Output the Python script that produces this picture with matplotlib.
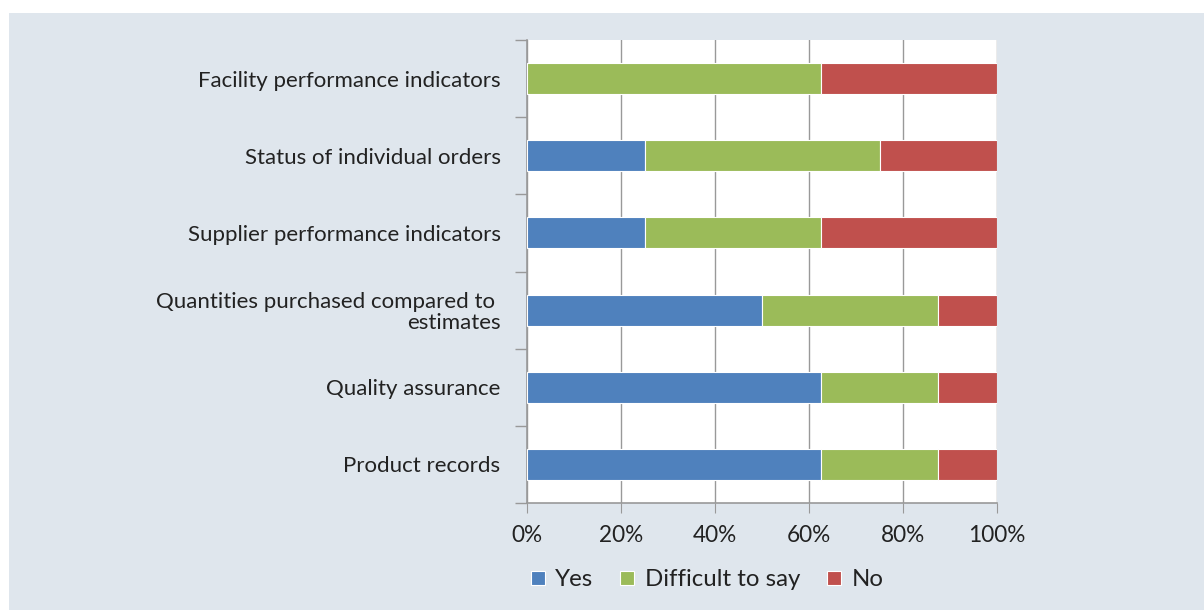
import matplotlib
matplotlib.use("Agg")
import matplotlib.pyplot as plt
from matplotlib.patches import Rectangle
import numpy as np

categories = ["Product records", "Quality assurance",
              "Quantities purchased compared to \nestimates",
              "Supplier performance indicators",
              "Status of individual orders",
              "Facility performance indicators"]
yes = [62.5, 62.5, 50.0, 25.0, 25.0, 0.0]
difficult = [25.0, 25.0, 37.5, 37.5, 50.0, 62.5]
no = [12.5, 12.5, 12.5, 37.5, 25.0, 37.5]
series_names = ["Yes", "Difficult to say", "No"]
colors = ["#4f81bd", "#9bbb59", "#c0504d"]
xticks = [0, 20, 40, 60, 80, 100]
xtick_labels = ["0%", "20%", "40%", "60%", "80%", "100%"]

plt.rcParams['font.family'] = ['Lato', 'DejaVu Sans']

W, H = 1204, 610
fig = plt.figure(figsize=(W/100, H/100), dpi=100)
fig.patch.set_facecolor("white")
bg = Rectangle((9/W, 0), 1 - 9/W, 1 - 13/H, transform=fig.transFigure,
               facecolor="#dfe6ed", edgecolor="none", zorder=-10)
fig.patches.append(bg)

ax = fig.add_axes([527/W, 1 - 503/H, (997-527)/W, (503-40)/H])
ax.set_facecolor("white")

y = np.arange(len(categories))
left = np.zeros(len(categories))
for vals, name, c in zip([yes, difficult, no], series_names, colors):
    ax.barh(y, vals, left=left, height=0.4, color=c, edgecolor="white",
            linewidth=0.8, label=name, zorder=3)
    left = left + np.array(vals)

ax.set_xlim(0, 100)
ax.set_ylim(-0.5, len(categories) - 0.5)
ax.set_xticks(xticks)
ax.set_xticklabels(xtick_labels, fontsize=16.3, color="#222222")
ax.set_yticks(y)
ax.set_yticklabels(categories, fontsize=16, color="#222222", ha="right",
                   linespacing=1.05)
ax.tick_params(axis="y", length=0, pad=19)
ax.tick_params(axis="x", length=7, color="#999999", pad=9)
ax.set_yticks(np.arange(-0.5, len(categories), 1.0), minor=True)
ax.tick_params(axis="y", which="minor", length=9, color="#999999", width=1)
ax.grid(axis="x", color="#999999", linewidth=1, zorder=0)
for s in ["top", "right"]:
    ax.spines[s].set_visible(False)
ax.spines["left"].set_color("#999999")
ax.spines["bottom"].set_color("#999999")
ax.spines["left"].set_linewidth(1.2)
ax.spines["bottom"].set_linewidth(1.2)

leg = fig.legend(loc="center", bbox_to_anchor=(707/W, 1 - 580/H), ncol=3,
                 frameon=False, fontsize=17.3, handlelength=0.58, handleheight=0.58,
                 columnspacing=1.1, handletextpad=0.45)
for t in leg.get_texts():
    t.set_color("#222222")

fig.savefig("out.png", dpi=100, facecolor=fig.get_facecolor())
